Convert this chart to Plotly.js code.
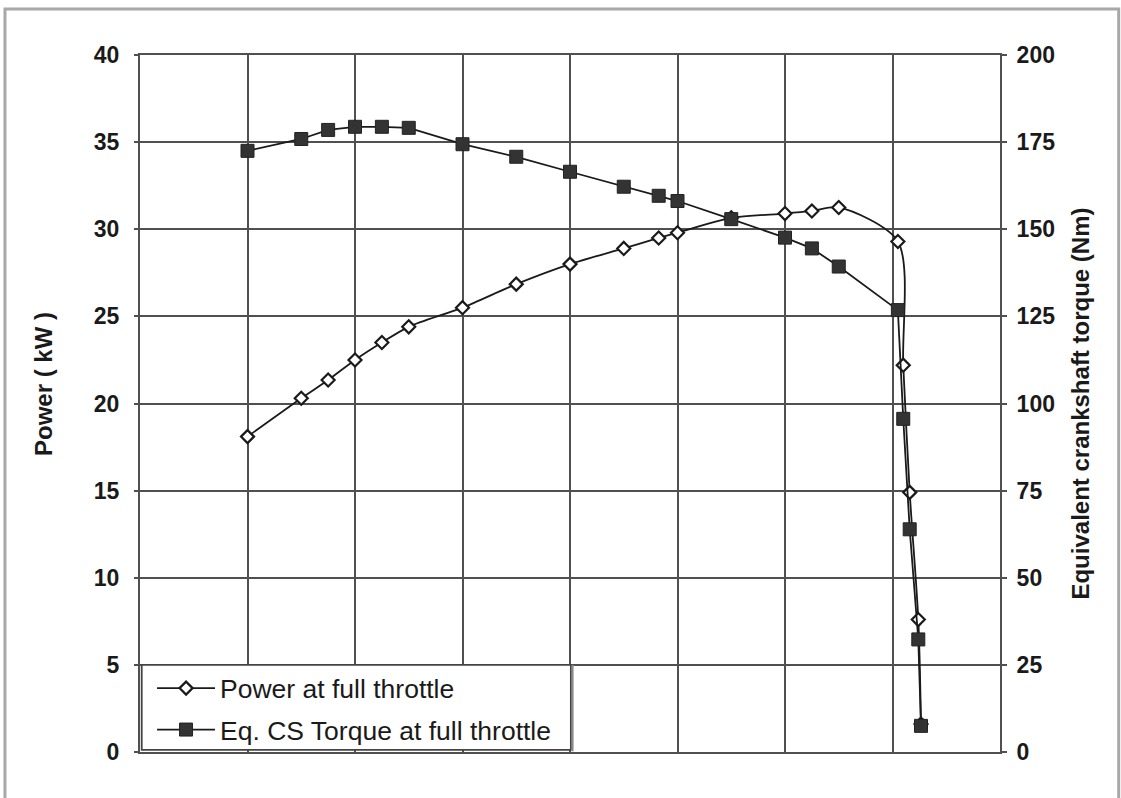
<!DOCTYPE html>
<html>
<head>
<meta charset="utf-8">
<script src="https://cdn.plot.ly/plotly-3.0.1.min.js"></script>
<style>
html, body { margin: 0; padding: 0; background: #ffffff; }
#chart { width: 1121px; height: 798px; }
</style>
</head>
<body>
<div id="chart"></div>
<script>
// Engine speed (rpm) - x axis has no printed labels in the original
const speed = [1000, 1100, 1150, 1200, 1250, 1300, 1400, 1500, 1600, 1700, 1765, 1800, 1900, 2000, 2050, 2100, 2210, 2220, 2232, 2248, 2253];
// Power at full throttle (kW)
const power = [18.1, 20.3, 21.35, 22.5, 23.5, 24.4, 25.5, 26.85, 28.0, 28.9, 29.5, 29.8, 30.65, 30.9, 31.05, 31.25, 29.3, 22.2, 14.9, 7.6, 1.6];
// Equivalent crankshaft torque at full throttle (Nm)
const torque = [172.5, 175.9, 178.5, 179.4, 179.4, 179.1, 174.4, 170.8, 166.5, 162.2, 159.6, 158.1, 152.9, 147.6, 144.5, 139.3, 126.8, 95.6, 63.9, 32.3, 7.5];

const powerTicks = [0, 5, 10, 15, 20, 25, 30, 35, 40];
const torqueTicks = [0, 25, 50, 75, 100, 125, 150, 175, 200];

const FONT = 'Liberation Sans, Arial, sans-serif';
const GRID = '#505050';

const traces = [
  {
    x: speed, y: power, name: 'Power at full throttle',
    type: 'scatter', mode: 'lines+markers',
    line: { color: '#1a1a1a', width: 1.8, shape: 'spline', smoothing: 0.8 },
    marker: { symbol: 'diamond', size: 10, color: '#ffffff', line: { color: '#1a1a1a', width: 2.2 } },
    yaxis: 'y', legendgroup: 'a'
  },
  {
    x: speed, y: torque, name: 'Eq. CS Torque at full throttle',
    type: 'scatter', mode: 'lines+markers',
    line: { color: '#1a1a1a', width: 1.8 },
    marker: { symbol: 'square', size: 13, color: '#333333', line: { color: '#222222', width: 1 } },
    yaxis: 'y2', legendgroup: 'b'
  }
];

const layout = {
  width: 1121, height: 798,
  margin: { l: 140, r: 121, t: 55, b: 46, pad: 0 },
  paper_bgcolor: '#ffffff', plot_bgcolor: '#ffffff',
  font: { family: FONT, color: '#1a1a1a' },
  showlegend: true,
  legend: {
    x: 0.014, y: -0.002, xanchor: 'left', yanchor: 'bottom',
    bgcolor: 'rgba(0,0,0,0)', borderwidth: 0,
    font: { family: FONT, size: 26.5, color: '#1a1a1a' },
    traceorder: 'grouped', tracegroupgap: 4, itemwidth: 58
  },
  xaxis: {
    range: [800, 2400], dtick: 200, tick0: 800,
    showticklabels: false, ticks: '',
    showgrid: true, gridcolor: GRID, gridwidth: 2,
    showline: true, linecolor: GRID, linewidth: 2, mirror: true,
    zeroline: false, fixedrange: true
  },
  yaxis: {
    range: [0, 40], tickvals: powerTicks, ticktext: powerTicks.map(String),
    ticks: 'outside', ticklen: 4, tickcolor: GRID, tickwidth: 2,
    ticklabelstandoff: 10,
    tickfont: { family: FONT, size: 23, color: '#1a1a1a', weight: 'bold' },
    showgrid: true, gridcolor: GRID, gridwidth: 2,
    showline: true, linecolor: GRID, linewidth: 2,
    zeroline: false, fixedrange: true
  },
  yaxis2: {
    range: [0, 200], tickvals: torqueTicks, ticktext: torqueTicks.map(String),
    overlaying: 'y', side: 'right',
    ticks: 'outside', ticklen: 5, tickcolor: GRID, tickwidth: 2,
    ticklabelstandoff: 5,
    tickfont: { family: FONT, size: 23, color: '#1a1a1a', weight: 'bold' },
    showgrid: false, showline: true, linecolor: GRID, linewidth: 2,
    zeroline: false, fixedrange: true,
    title: { text: 'Equivalent crankshaft torque (Nm)', font: { family: FONT, size: 24, color: '#1a1a1a', weight: 'bold' }, standoff: 18 }
  },
  annotations: [
    { text: 'Power ( kW )', xref: 'paper', yref: 'paper', x: -0.1116, y: 0.528,
      xanchor: 'center', yanchor: 'middle', textangle: -90, showarrow: false,
      font: { family: FONT, size: 24, color: '#1a1a1a', weight: 'bold' } }
  ],
  shapes: [
    // legend box
    { type: 'rect', xref: 'paper', yref: 'paper', x0: 0.002, x1: 0.501, y0: 0.003, y1: 0.125,
      fillcolor: '#ffffff', line: { color: '#444444', width: 1.8 }, layer: 'above' },
    // legend box shadow (right edge)
    { type: 'line', xref: 'paper', yref: 'paper', x0: 0.503, x1: 0.503, y0: 0.001, y1: 0.125,
      line: { color: '#8a8a8a', width: 2 }, layer: 'above' },
    // outer image frame (left, top, right)
    { type: 'path', xref: 'paper', yref: 'paper',
      path: 'M -0.157 -0.08 L -0.157 1.066 L 1.138 1.066 L 1.138 -0.08',
      line: { color: '#a8a8a8', width: 3 }, layer: 'above' }
  ]
};

Plotly.newPlot('chart', traces, layout, { displayModeBar: false, staticPlot: true });
</script>
</body>
</html>
